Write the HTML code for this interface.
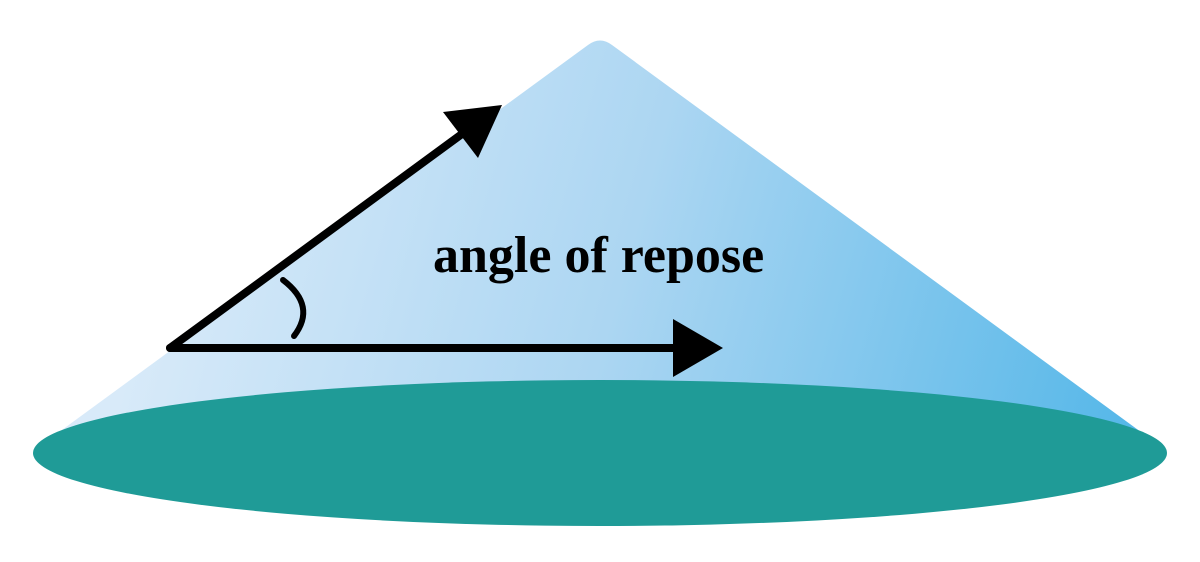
<!DOCTYPE html>
<html>
<head>
<meta charset="utf-8">
<style>
  html, body { margin: 0; padding: 0; background: #ffffff; }
  body { width: 1200px; height: 562px; overflow: hidden; }
  svg { display: block; }
</style>
</head>
<body>
<svg width="1200" height="562" viewBox="0 0 1200 562" xmlns="http://www.w3.org/2000/svg">
  <defs>
    <linearGradient id="cone" gradientUnits="userSpaceOnUse" x1="180" y1="170" x2="1150" y2="440">
      <stop offset="0" stop-color="#d8eaf9"/>
      <stop offset="0.45" stop-color="#acd6f2"/>
      <stop offset="1" stop-color="#52b6e8"/>
    </linearGradient>
  </defs>
  <rect width="1200" height="562" fill="#ffffff"/>
  <!-- cone body -->
  <path d="M 40 446 L 588 45 Q 600 36 612 45 L 1160 446 Z" fill="url(#cone)"/>
  <!-- base ellipse -->
  <ellipse cx="600" cy="453" rx="567" ry="73" fill="#1f9b97"/>

  <!-- horizontal arrow -->
  <line x1="170" y1="348" x2="676" y2="348" stroke="#000" stroke-width="8" stroke-linecap="round"/>
  <polygon points="673,319 723,348 673,377" fill="#000"/>

  <!-- inclined arrow -->
  <line x1="170" y1="348" x2="466" y2="131" stroke="#000" stroke-width="8" stroke-linecap="round"/>
  <polygon points="502,105 443,112 478,158" fill="#000"/>

  <!-- angle arc -->
  <path d="M 283 280 Q 317 306 294 336" fill="none" stroke="#000" stroke-width="6" stroke-linecap="round"/>

  <!-- label -->
  <text x="433" y="272" font-family="'Liberation Serif', 'Times New Roman', serif" font-weight="bold" font-size="52" fill="#000">angle of repose</text>
</svg>
</body>
</html>
